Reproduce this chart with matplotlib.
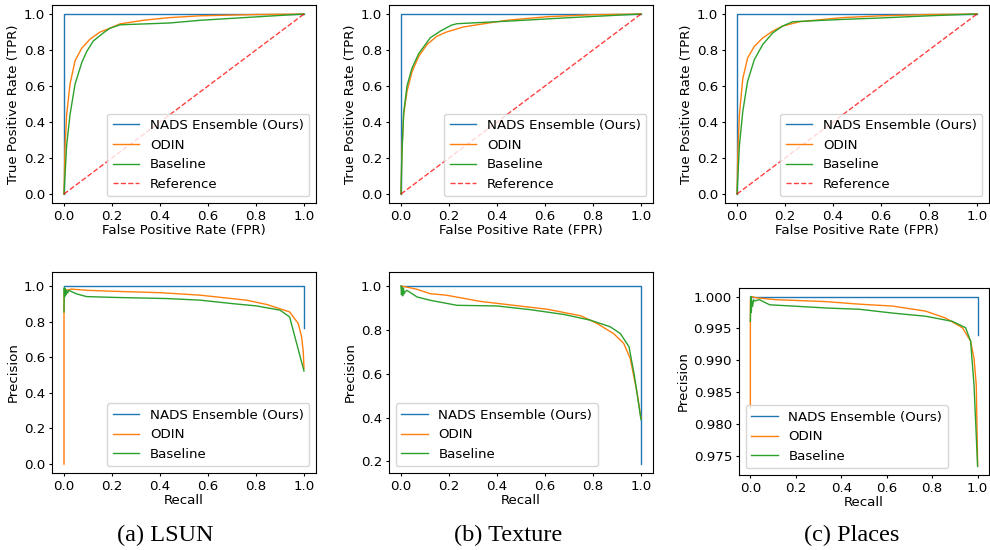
import matplotlib
matplotlib.use("Agg")
import matplotlib.pyplot as plt

plt.rcParams['font.family'] = ['DejaVu Sans']
plt.rcParams['font.size'] = 9.6
plt.rcParams['xtick.major.size'] = 2.4
plt.rcParams['ytick.major.size'] = 2.4
plt.rcParams['xtick.major.pad'] = 2.6
plt.rcParams['ytick.major.pad'] = 2.6

# ---------------- data ----------------
methods = ["NADS Ensemble (Ours)", "ODIN", "Baseline"]
captions = ["(a) LSUN", "(b) Texture", "(c) Places"]

# ROC curves: NADS ensemble (perfect)
roc_nads_fpr = [0.0, 0.0, 1.0]
roc_nads_tpr = [0.0, 1.0, 1.0]
ref_x = [0.0, 1.0]
ref_y = [0.0, 1.0]

# LSUN ROC
lsun_odin_fpr = [0.0, 0.004, 0.011, 0.025, 0.046, 0.074, 0.108, 0.15, 0.19, 0.233, 0.33, 0.44, 0.567, 0.8, 1.0]
lsun_odin_tpr = [0.0, 0.25, 0.44, 0.61, 0.74, 0.81, 0.86, 0.90, 0.92, 0.945, 0.965, 0.98, 0.99, 0.997, 1.0]
lsun_base_fpr = [0.0, 0.011, 0.025, 0.046, 0.074, 0.094, 0.122, 0.164, 0.19, 0.233, 0.44, 0.567, 0.8, 1.0]
lsun_base_tpr = [0.0, 0.27, 0.44, 0.61, 0.73, 0.79, 0.85, 0.895, 0.92, 0.94, 0.95, 0.965, 0.984, 1.0]

# Texture ROC
tex_odin_fpr = [0.0, 0.004, 0.011, 0.025, 0.046, 0.074, 0.108, 0.15, 0.19, 0.26, 0.37, 0.44, 0.61, 0.8, 1.0]
tex_odin_tpr = [0.0, 0.25, 0.44, 0.57, 0.68, 0.765, 0.83, 0.877, 0.90, 0.928, 0.951, 0.965, 0.985, 0.996, 1.0]
tex_base_fpr = [0.0, 0.004, 0.011, 0.025, 0.046, 0.074, 0.122, 0.164, 0.21, 0.233, 0.44, 0.68, 1.0]
tex_base_tpr = [0.0, 0.22, 0.45, 0.6, 0.7, 0.78, 0.868, 0.905, 0.938, 0.946, 0.96, 0.978, 1.0]

# Places ROC
pla_odin_fpr = [0.0, 0.004, 0.01, 0.024, 0.044, 0.072, 0.107, 0.149, 0.19, 0.26, 0.44, 0.6, 0.8, 1.0]
pla_odin_tpr = [0.0, 0.25, 0.44, 0.64, 0.755, 0.82, 0.867, 0.905, 0.933, 0.957, 0.98, 0.99, 0.997, 1.0]
pla_base_fpr = [0.0, 0.01, 0.024, 0.044, 0.072, 0.107, 0.149, 0.19, 0.232, 0.44, 0.6, 0.8, 1.0]
pla_base_tpr = [0.0, 0.27, 0.457, 0.625, 0.746, 0.83, 0.895, 0.933, 0.957, 0.97, 0.978, 0.99, 1.0]

# PR curves
lsun_nads_rec = [0.0, 1.0, 1.0]
lsun_nads_prec = [1.0, 1.0, 0.761]
lsun_odin_rec = [0.0, 0.0, 0.005, 0.01, 0.03, 0.1, 0.2, 0.4, 0.567, 0.76, 0.844, 0.94, 0.976, 0.99, 0.997, 1.0]
lsun_odin_prec = [0.0, 0.96, 0.985, 0.975, 0.982, 0.975, 0.97, 0.962, 0.948, 0.92, 0.896, 0.854, 0.789, 0.714, 0.63, 0.537]
lsun_base_rec = [0.0, 0.001, 0.003, 0.005, 0.008, 0.011, 0.015, 0.02, 0.053, 0.094, 0.22, 0.43, 0.567, 0.706, 0.8, 0.9, 0.94, 1.0]
lsun_base_prec = [0.854, 0.99, 0.94, 0.985, 0.95, 0.975, 0.96, 0.975, 0.955, 0.94, 0.935, 0.929, 0.92, 0.9, 0.888, 0.864, 0.826, 0.522]

tex_nads_rec = [0.0, 1.0, 1.0]
tex_nads_prec = [1.0, 1.0, 0.188]
tex_odin_rec = [0.0, 0.025, 0.067, 0.122, 0.19, 0.33, 0.47, 0.61, 0.75, 0.817, 0.886, 0.928, 0.955, 0.983, 1.0]
tex_odin_prec = [1.0, 0.995, 0.985, 0.965, 0.958, 0.93, 0.912, 0.894, 0.864, 0.829, 0.783, 0.738, 0.67, 0.518, 0.397]
tex_base_rec = [0.0, 0.002, 0.004, 0.007, 0.01, 0.013, 0.018, 0.025, 0.067, 0.122, 0.233, 0.4, 0.54, 0.68, 0.79, 0.872, 0.914, 0.95, 0.972, 1.0]
tex_base_prec = [1.0, 0.96, 0.995, 0.955, 0.99, 0.965, 0.975, 0.98, 0.95, 0.935, 0.912, 0.909, 0.892, 0.87, 0.844, 0.814, 0.783, 0.723, 0.594, 0.39]

pla_nads_rec = [0.0, 1.0, 1.0]
pla_nads_prec = [1.0, 1.0, 0.994]
pla_odin_rec = [0.0, 0.0, 0.005, 0.026, 0.114, 0.333, 0.48, 0.626, 0.772, 0.86, 0.933, 0.969, 0.984, 0.994, 1.0]
pla_odin_prec = [0.9825, 0.9995, 1.0, 0.9998, 0.9995, 0.9992, 0.9988, 0.9985, 0.9977, 0.9966, 0.9951, 0.993, 0.9903, 0.9861, 0.9735]
pla_base_rec = [0.0, 0.002, 0.004, 0.007, 0.01, 0.014, 0.019, 0.04, 0.085, 0.187, 0.333, 0.48, 0.626, 0.772, 0.889, 0.947, 0.969, 0.984, 1.0]
pla_base_prec = [0.9961, 1.0, 0.9975, 0.9993, 0.9985, 0.9995, 0.9993, 0.9995, 0.9987, 0.9985, 0.9982, 0.998, 0.9974, 0.9969, 0.9961, 0.9951, 0.993, 0.9861, 0.9733]

roc_data = [
    (lsun_odin_fpr, lsun_odin_tpr, lsun_base_fpr, lsun_base_tpr),
    (tex_odin_fpr, tex_odin_tpr, tex_base_fpr, tex_base_tpr),
    (pla_odin_fpr, pla_odin_tpr, pla_base_fpr, pla_base_tpr),
]
pr_data = [
    (lsun_nads_rec, lsun_nads_prec, lsun_odin_rec, lsun_odin_prec, lsun_base_rec, lsun_base_prec),
    (tex_nads_rec, tex_nads_prec, tex_odin_rec, tex_odin_prec, tex_base_rec, tex_base_prec),
    (pla_nads_rec, pla_nads_prec, pla_odin_rec, pla_odin_prec, pla_base_rec, pla_base_prec),
]

# ---------------- layout ----------------
W, H = 990, 550
fig = plt.figure(figsize=(W / 100, H / 100), dpi=100)

def ax_at(l, t, r, b):
    return fig.add_axes([l / W, 1 - b / H, (r - l) / W, (b - t) / H])

top_boxes = [(52, 5, 316, 203), (389, 5, 653, 203), (725, 5, 989, 203)]
bot_boxes = [(52, 272, 316, 473), (389, 272, 653, 473), (739, 288, 989, 475)]
pr_ylims = [(-0.05, 1.078), (0.147, 1.064), (0.97197, 1.00134)]
pr_legend_loc = ["lower right", "lower left", "lower left"]

lw = 1.0
c_nads, c_odin, c_base = "#1f77b4", "#ff7f0e", "#2ca02c"

for i in range(3):
    ax = ax_at(*top_boxes[i])
    of, ot, bf, bt = roc_data[i]
    ax.plot(roc_nads_fpr, roc_nads_tpr, color=c_nads, lw=lw, label=methods[0])
    ax.plot(of, ot, color=c_odin, lw=lw, label=methods[1])
    ax.plot(bf, bt, color=c_base, lw=lw, label=methods[2])
    ax.plot(ref_x, ref_y, color="red", lw=lw, ls="--", alpha=0.75, label="Reference")
    ax.set_xlim(-0.05, 1.05)
    ax.set_ylim(-0.05, 1.05)
    ax.set_xticks([0, 0.2, 0.4, 0.6, 0.8, 1.0])
    ax.set_yticks([0, 0.2, 0.4, 0.6, 0.8, 1.0])
    ax.set_xlabel("False Positive Rate (FPR)", labelpad=1)
    ax.set_ylabel("True Positive Rate (TPR)", labelpad=3)
    ax.legend(loc="lower right", fontsize=9.6)

for i in range(3):
    ax = ax_at(*bot_boxes[i])
    nr, npr, orc, opr, br, bp = pr_data[i]
    ax.plot(nr, npr, color=c_nads, lw=lw, label=methods[0])
    ax.plot(orc, opr, color=c_odin, lw=lw, label=methods[1])
    ax.plot(br, bp, color=c_base, lw=lw, label=methods[2])
    ax.set_xlim(-0.05, 1.05)
    ax.set_ylim(*pr_ylims[i])
    ax.set_xticks([0, 0.2, 0.4, 0.6, 0.8, 1.0])
    ax.set_xlabel("Recall", labelpad=1)
    ax.set_ylabel("Precision", labelpad=3)
    ax.legend(loc=pr_legend_loc[i], fontsize=9.6)

cap_x = [165, 508, 852]
for i in range(3):
    fig.text(cap_x[i] / W, 1 - 535 / H, captions[i], ha="center", va="center",
             fontsize=17.5, family=["Liberation Serif"])

fig.savefig("out.png", dpi=100)
